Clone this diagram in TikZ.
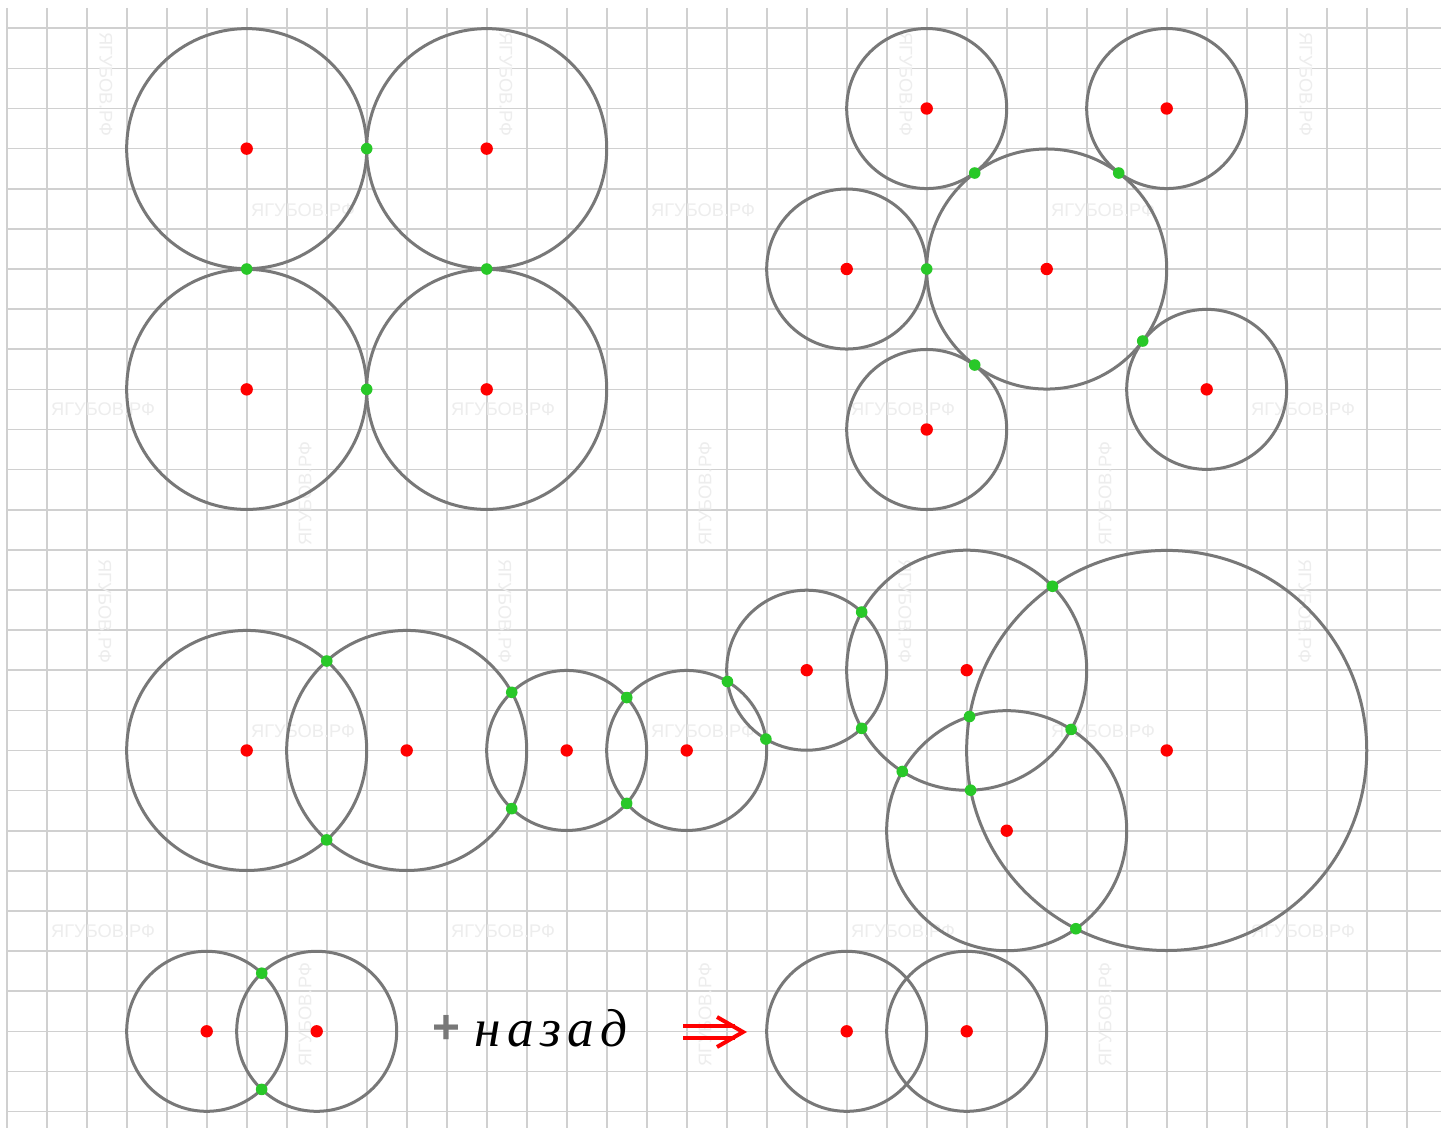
\documentclass[tikz,border=0pt]{standalone}
\usepackage{fontspec}
\setmainfont{Liberation Serif}
\newfontfamily\wmfont{Liberation Sans}
\newfontfamily\handfont[LetterSpace=12]{Liberation Serif}
\usetikzlibrary{intersections}
\definecolor{circgray}{RGB}{120,120,120}
\definecolor{gridgray}{RGB}{208,208,208}
\definecolor{dotred}{RGB}{255,0,0}
\definecolor{dotgreen}{RGB}{40,200,40}
\definecolor{wmgray}{RGB}{237,237,237}
\newcommand\greenpair[2]{%
  \path[name intersections={of=#1 and #2,name=x#1#2}];
  \node[greendot] (g#1#2a) at (x#1#2-1) {};
  \node[greendot] (g#1#2b) at (x#1#2-2) {};}
\begin{document}
\begin{tikzpicture}[x=0.025cm,y=-0.025cm,
  gridline/.style={draw=gridgray,line width=0.04cm},
  circ/.style={draw=circgray,line width=0.075cm},
  reddot/.style={circle,fill=dotred,inner sep=0pt,minimum size=0.31cm},
  greendot/.style={circle,fill=dotgreen,inner sep=0pt,minimum size=0.29cm},
  wm/.style={font=\wmfont\fontsize{13pt}{13pt}\selectfont,text=wmgray,inner sep=0pt},
  arrowred/.style={draw=dotred,line width=0.1cm}]
\useasboundingbox (0,0) rectangle (1441,1128);
\fill[white] (0,0) rectangle (1441,1128);
% grid
\foreach \i in {0,...,35} \draw[gridline] (6.7+40*\i,8) -- (6.7+40*\i,1128);
\foreach \j in {0,...,27} \draw[gridline] (6.7,28.3+40.12*\j) -- (1441,28.3+40.12*\j);
% watermarks
\foreach \x/\y [count=\k] in {303/210,703/210,1103/210,103/409,503/409,903/409,1303/409,303/731,703/731,1103/731,103/931,503/931,903/931,1303/931}
  \node[wm] (wh\k) at (\x,\y) {ЯГУБОВ.РФ};
\foreach \x/\y [count=\k] in {106/84,506/84,906/84,1306/84,105/611,505/611,905/611,1305/611}
  \node[wm,rotate=-90] (wd\k) at (\x,\y) {ЯГУБОВ.РФ};
\foreach \x/\y [count=\k] in {305/1015,705/1015,1105/1015,305/494,705/494,1105/494}
  \node[wm,rotate=90] (wu\k) at (\x,\y) {ЯГУБОВ.РФ};
% centres
\coordinate (A1) at (246.7,148.66);
\coordinate (A2) at (486.7,148.66);
\coordinate (A3) at (246.7,389.38);
\coordinate (A4) at (486.7,389.38);
\coordinate (B0) at (1046.7,269.02);
\coordinate (B1) at (926.7,108.54);
\coordinate (B2) at (1166.7,108.54);
\coordinate (B3) at (846.7,269.02);
\coordinate (B4) at (926.7,429.5);
\coordinate (B5) at (1206.7,389.38);
\coordinate (C1) at (246.7,750.46);
\coordinate (C2) at (406.7,750.46);
\coordinate (C3) at (566.7,750.46);
\coordinate (C4) at (686.7,750.46);
\coordinate (C5) at (806.7,670.22);
\coordinate (C6) at (966.7,670.22);
\coordinate (C7) at (1006.7,830.7);
\coordinate (C8) at (1166.7,750.46);
\coordinate (D1) at (206.7,1031.3);
\coordinate (D2) at (316.7,1031.3);
\coordinate (E1) at (846.7,1031.3);
\coordinate (E2) at (966.7,1031.3);
% circles
\foreach \c in {A1,A2,A3,A4,B0} \draw[circ] (\c) circle (3cm);
\foreach \c in {B1,B2,B3,B4,B5} \draw[circ] (\c) circle (2cm);
\draw[circ,name path=c1] (C1) circle (3cm);
\draw[circ,name path=c2] (C2) circle (3cm);
\draw[circ,name path=c3] (C3) circle (2cm);
\draw[circ,name path=c4] (C4) circle (2cm);
\draw[circ,name path=c5] (C5) circle (2cm);
\draw[circ,name path=c6] (C6) circle (3cm);
\draw[circ,name path=c7] (C7) circle (3cm);
\draw[circ,name path=c8] (C8) circle (5cm);
\draw[circ,name path=d1] (D1) circle (2cm);
\draw[circ,name path=d2] (D2) circle (2cm);
\draw[circ] (E1) circle (2cm);
\draw[circ] (E2) circle (2cm);
% red centres
\foreach \c in {A1,A2,A3,A4,B0,B1,B2,B3,B4,B5,C1,C2,C3,C4,C5,C6,C7,C8,D1,D2,E1,E2}
  \node[reddot] (r\c) at (\c) {};
% tangent points
\foreach \x/\y [count=\k] in {366.7/148.66,246.7/269.02,486.7/269.02,366.7/389.38,974.7/173.02,1118.7/173.02,926.7/269.02,974.7/365.02,1142.7/341.02}
  \node[greendot] (t\k) at (\x,\y) {};
% intersection points
\greenpair{c1}{c2}
\greenpair{c2}{c3}
\greenpair{c3}{c4}
\greenpair{c4}{c5}
\greenpair{c5}{c6}
\greenpair{c6}{c7}
\greenpair{c6}{c8}
\greenpair{c7}{c8}
\greenpair{d1}{d2}
% text
\node[font=\wmfont\bfseries\fontsize{34pt}{34pt}\selectfont,text=circgray,inner sep=0pt] (plus) at (446,1029) {+};
\node[font=\handfont\itshape\fontsize{38pt}{38pt}\selectfont,anchor=base west,inner sep=0pt] (word) at (474,1046) {назад};
% arrow
\coordinate (a1s) at (683,1026);
\coordinate (a1e) at (735,1026);
\coordinate (a2s) at (683,1038);
\coordinate (a2e) at (735,1038);
\coordinate (hT) at (717,1017);
\coordinate (tip) at (743,1032);
\coordinate (hB) at (717,1047);
\draw[arrowred] (a1s) -- (a1e);
\draw[arrowred] (a2s) -- (a2e);
\draw[arrowred,line join=miter] (hT) -- (tip) -- (hB);
\end{tikzpicture}
\end{document}
